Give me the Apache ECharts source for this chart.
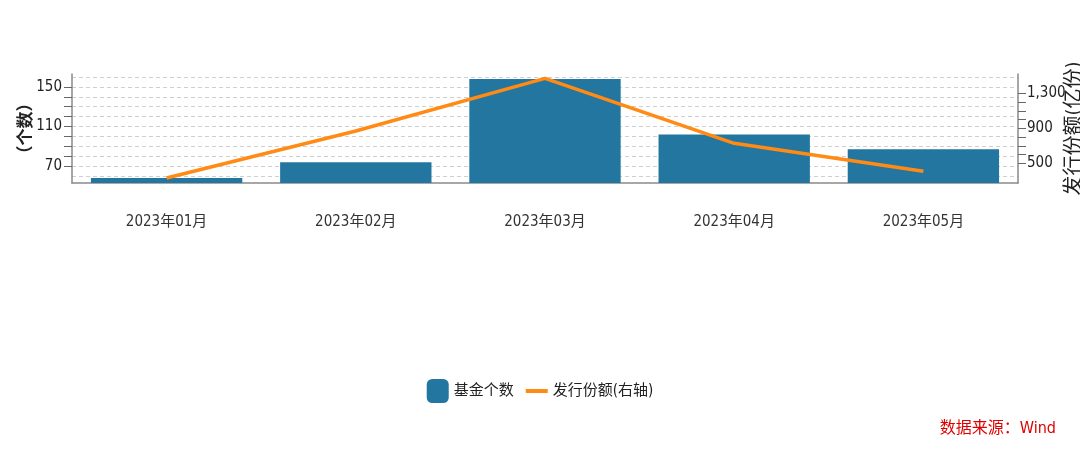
<!DOCTYPE html>
<html>
<head>
<meta charset="utf-8">
<script src="https://cdn.jsdelivr.net/npm/echarts@6/dist/echarts.min.js"></script>
<style>
html,body{margin:0;padding:0;background:#fff;}
#c{width:1080px;height:456px;}
</style>
</head>
<body>
<div id="c"></div>
<script>
const categories = ['2023年01月','2023年02月','2023年03月','2023年04月','2023年05月'];
const fundCount = [58, 74, 158, 102, 87];
const issueShare = [332, 869, 1470, 728, 409];
const leftTicks = [70, 80, 90, 100, 110, 120, 130, 140, 150];
const leftLabels = [70, 110, 150];
const leftGrid = [60, 70, 80, 90, 100, 110, 120, 130, 140, 150, 160];
const rightTicks = [500, 600, 700, 800, 900, 1000, 1100, 1200, 1300];
const rightLabels = [500, 900, 1300];

const FONT = "'Liberation Sans Narrow','Arial Narrow','DejaVu Sans Condensed','Noto Sans CJK SC',sans-serif";
const chart = echarts.init(document.getElementById('c'), null, {renderer: 'canvas'});
const axisGray = '#8a8a8a';
chart.setOption({
  animation: false,
  backgroundColor: '#fff',
  textStyle: {fontFamily: FONT},
  grid: {left: 72, right: 62, top: 74, bottom: 273, containLabel: false, outerBoundsMode: 'none'},
  xAxis: {
    type: 'category',
    data: categories,
    axisLine: {lineStyle: {color: axisGray, width: 1.5}},
    axisTick: {alignWithLabel: true, length: 16, lineStyle: {color: axisGray}},
    axisLabel: {margin: 32, fontSize: 15, color: '#333', fontFamily: FONT}
  },
  yAxis: [
    {
      type: 'value', position: 'left', min: 53, max: 163,
      name: '（个数）', nameLocation: 'middle', nameRotate: 90, nameGap: 37, nameMoveOverlap: false,
      nameTextStyle: {fontSize: 17, fontWeight: 'bold', color: '#222', fontFamily: FONT},
      axisLine: {show: true, lineStyle: {color: axisGray, width: 1.5}},
      axisTick: {show: true, length: 8, customValues: leftTicks, lineStyle: {color: '#666'}},
      axisLabel: {margin: 10, fontSize: 15, color: '#222', customValues: leftLabels, fontFamily: FONT},
      splitLine: {show: false}
    },
    {
      type: 'value', position: 'right', min: 275, max: 1520,
      name: '发行份额(亿份)', nameLocation: 'middle', nameRotate: 90, nameGap: 47, nameMoveOverlap: false,
      nameTextStyle: {fontSize: 20, color: '#222', fontFamily: FONT},
      axisLine: {show: true, lineStyle: {color: axisGray, width: 1.5}},
      axisTick: {show: true, length: 8, customValues: rightTicks, lineStyle: {color: '#666'}},
      axisLabel: {margin: 9, fontSize: 15, color: '#222', customValues: rightLabels, fontFamily: FONT,
        formatter: v => Number(v).toLocaleString('en-US')},
      splitLine: {show: false}
    },
    {
      type: 'value', position: 'left', min: 53, max: 163,
      axisLine: {show: false}, axisLabel: {show: false},
      axisTick: {show: false, customValues: leftGrid},
      splitLine: {show: true, lineStyle: {color: '#cfcfcf', type: [4, 3], width: 1}}
    }
  ],
  legend: {
    top: 374, left: 'center',
    itemWidth: 22, itemHeight: 24, itemGap: 10,
    textStyle: {fontSize: 15, color: '#222', fontFamily: FONT},
    data: [
      {name: '基金个数', icon: 'roundRect'},
      {name: '发行份额(右轴)', itemStyle: {opacity: 0}, lineStyle: {width: 4}}
    ]
  },
  graphic: [{
    type: 'text', right: 24, top: 421,
    style: {text: '数据来源：Wind', fill: '#dd0000', fontSize: 16, fontFamily: FONT}
  }],
  series: [
    {
      name: '基金个数', type: 'bar', yAxisIndex: 0, data: fundCount,
      barWidth: '80%', itemStyle: {color: '#2376a0'}, z: 2
    },
    {
      name: '发行份额(右轴)', type: 'line', yAxisIndex: 1, data: issueShare,
      symbol: 'none', lineStyle: {color: '#ff8a14', width: 3.5}, itemStyle: {color: '#ff8a14'}, z: 3
    }
  ]
});
</script>
</body>
</html>
